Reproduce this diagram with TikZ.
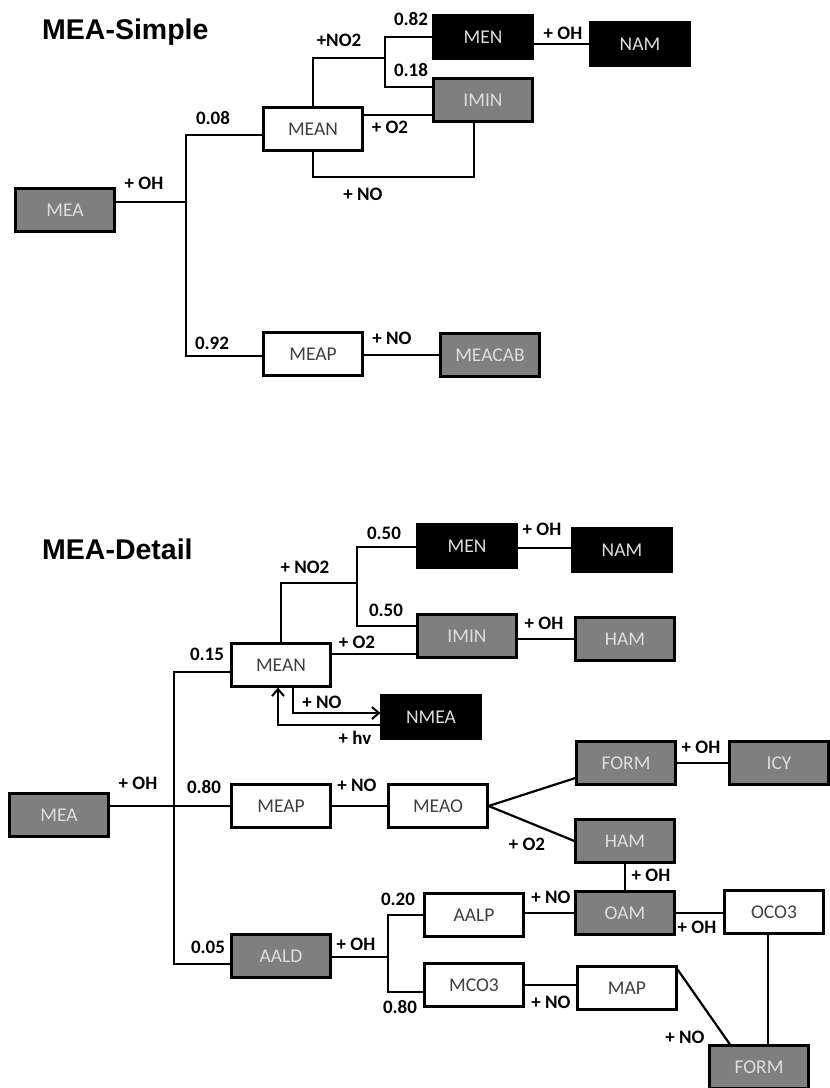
\documentclass[tikz,border=0pt]{standalone}
\usepackage{fontspec}
\setmainfont{Carlito}
\newfontfamily\titlefamily{Liberation Sans}
\usetikzlibrary{arrows.meta}
\definecolor{boxgrey}{RGB}{127,127,127}
\definecolor{paletext}{RGB}{222,222,222}
\definecolor{inktext}{RGB}{64,64,64}
\tikzset{
  box/.style={draw=black, line width=2.1pt, minimum width=99pt, minimum height=43pt,
    inner sep=0pt, font=\fontsize{19.5}{19.5}\selectfont},
  greybox/.style={box, fill=boxgrey, text=paletext},
  blackbox/.style={box, fill=black, text=paletext},
  whitebox/.style={box, fill=white, text=inktext},
  rate/.style={font=\bfseries\fontsize{19}{19}\selectfont, inner sep=0pt},
  heading/.style={font=\titlefamily\bfseries\fontsize{28.5}{28.5}\selectfont, inner sep=0pt, anchor=west},
  link/.style={line width=2.2pt},
  barb/.style={link, -{Straight Barb[length=7pt,width=12pt,line width=2pt]}},
}
\begin{document}
\begin{tikzpicture}[x=1pt, y=-1pt]
  \useasboundingbox (0,0) rectangle (830,1088);
  % MEA-Simple
  \node[heading] (simple) at (42,32) {MEA-Simple};
  \node[greybox] (MEA1) at (65,210) {MEA};
  \node[whitebox] (MEAN1) at (313,129) {MEAN};
  \node[whitebox] (MEAP1) at (313,354) {MEAP};
  \node[greybox] (MEACAB) at (490,355) {MEACAB};
  \node[blackbox] (MEN1) at (483,37) {MEN};
  \node[greybox] (IMIN1) at (483,100) {IMIN};
  \node[blackbox] (NAM1) at (640,44) {NAM};
  \coordinate (oh1) at (186,202);
  \coordinate (up1) at (186,135);
  \coordinate (dn1) at (186,356);
  \coordinate (no2a) at (385,58);
  \coordinate (b18) at (385,87);
  \coordinate (loop1) at (474,177);
  \draw[link] (MEA1.east |- oh1) -- (oh1);
  \draw[link] (MEAN1.west |- up1) -- (up1) -- (dn1) -- (MEAP1.west |- dn1);
  \draw[link] (MEAP1.east |- MEACAB) -- (MEACAB.west);
  \draw[link] (MEAN1.north) |- (no2a);
  \draw[link] (MEN1.west) -| (b18) -- (IMIN1.west |- b18);
  \draw[link] (MEAN1.east |- 0,115) -- (IMIN1.west |- 0,115);
  \draw[link] (MEAN1.south) |- (loop1) -- (IMIN1.south -| loop1);
  \draw[link] (MEN1.east |- NAM1) -- (NAM1.west);
  \foreach \x/\y/\t [count=\k] in {144/183/+ OH, 213/118/0.08, 212/343/0.92, 392/338/+ NO,
      339/40/+NO2, 411/19/0.82, 411/70/0.18, 390/127/+ O2, 363/194/+ NO, 563/33/+ OH}
    \node[rate] (rs\k) at (\x,\y) {\t};

  % MEA-Detail
  \node[heading] (detail) at (42,549) {MEA-Detail};
  \node[greybox] (MEA2) at (59,815) {MEA};
  \node[whitebox] (MEAN2) at (281,665) {MEAN};
  \node[whitebox] (MEAP2) at (281,806) {MEAP};
  \node[whitebox] (MEAO) at (438,806) {MEAO};
  \node[greybox] (AALD) at (281,956) {AALD};
  \node[blackbox] (MEN2) at (467,546) {MEN};
  \node[blackbox] (NAM2) at (622,550) {NAM};
  \node[greybox] (IMIN2) at (467,636) {IMIN};
  \node[greybox] (HAM1) at (625,639) {HAM};
  \node[blackbox] (NMEA) at (431,717) {NMEA};
  \node[greybox] (FORM1) at (626,763) {FORM};
  \node[greybox] (ICY) at (779,763) {ICY};
  \node[greybox] (HAM2) at (625,841) {HAM};
  \node[greybox] (OAM) at (625,913) {OAM};
  \node[whitebox] (AALP) at (474,915) {AALP};
  \node[whitebox] (OCO3) at (774,912) {OCO3};
  \node[whitebox] (MCO3) at (474,985) {MCO3};
  \node[whitebox] (MAP) at (627,988) {MAP};
  \node[greybox] (FORM2) at (759,1067) {FORM};
  \coordinate (oh2) at (174,806);
  \coordinate (dn2) at (174,964);
  \coordinate (no2b) at (357,583);
  \coordinate (b50) at (357,626);
  \coordinate (oh3) at (388,957);
  \coordinate (b80) at (388,992);
  \draw[link] (MEA2.east |- oh2) -- (oh2) -- (MEAP2.west);
  \draw[link] (MEAN2.west |- 0,672) -| (dn2) -- (AALD.west |- dn2);
  \draw[link] (MEAP2.east) -- (MEAO.west);
  \draw[link] (MEAN2.north) |- (no2b);
  \draw[link] (MEN2.west |- 0,547) -| (b50) -- (IMIN2.west |- b50);
  \draw[link] (MEAN2.east |- 0,654) -- (IMIN2.west |- 0,654);
  \draw[link] (MEN2.east |- 0,548) -- (NAM2.west |- 0,548);
  \draw[link] (IMIN2.east |- HAM1) -- (HAM1.west);
  \draw[barb] (MEAN2.south -| 293,0) |- (NMEA.west |- 0,713);
  \draw[barb] (NMEA.west |- 0,725) -| (MEAN2.south -| 278,0);
  \draw[link] (MEAO.east) -- (FORM1.west |- 0,778);
  \draw[link] (MEAO.east) -- (HAM2.west);
  \draw[link] (FORM1.east) -- (ICY.west);
  \draw[link] (HAM2.south) -- (OAM.north);
  \draw[link] (AALD.east |- oh3) -- (oh3);
  \draw[link] (AALP.west) -| (b80) -- (MCO3.west |- b80);
  \draw[link] (AALP.east |- OAM) -- (OAM.west);
  \draw[link] (OAM.east) -- (OCO3.west |- OAM);
  \draw[link] (MCO3.east) -- (MAP.west |- MCO3);
  \draw[link] ([yshift=-4pt]MAP.north east) -- (FORM2.north -| 730,0);
  \draw[link] (OCO3.south -| 768,0) -- (FORM2.north -| 768,0);
  \foreach \x/\y/\t [count=\k] in {305/567/+ NO2, 384/533/0.50, 386/610/0.50, 357/642/+ O2,
      542/529/+ OH, 544/623/+ OH, 207/654/0.15, 322/702/+ NO, 355/738/+ hv, 138/783/+ OH,
      204/787/0.80, 357/785/+ NO, 701/747/+ OH, 527/844/+ O2, 651/875/+ OH, 398/899/0.20,
      551/897/+ NO, 697/927/+ OH, 208/947/0.05, 356/944/+ OH, 400/1007/0.80, 551/1002/+ NO,
      685/1037/+ NO}
    \node[rate] (rd\k) at (\x,\y) {\t};
\end{tikzpicture}
\end{document}
